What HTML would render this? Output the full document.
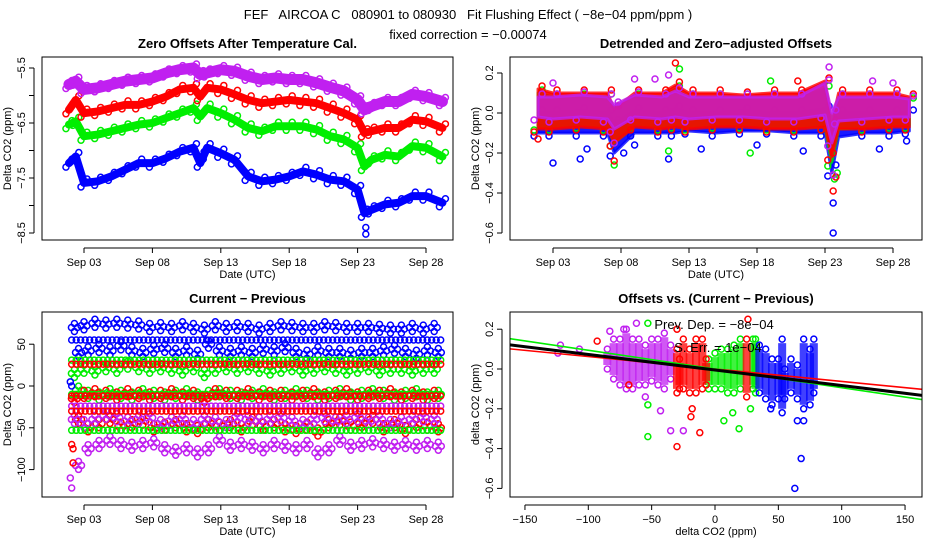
<!DOCTYPE html>
<html><head><meta charset="utf-8"><style>
body{margin:0;background:#fff}
svg{display:block;font-family:"Liberation Sans",sans-serif}
</style></head><body>
<svg id="s" width="936" height="540" viewBox="0 0 936 540">
<rect width="936" height="540" fill="#fff"/>
<text x="468" y="19" text-anchor="middle" font-size="13" style="white-space:pre">FEF   AIRCOA C   080901 to 080930   Fit Flushing Effect ( −8e−04 ppm/ppm )</text>
<text x="468" y="39" text-anchor="middle" font-size="13">fixed correction = −0.00074</text>
</svg>
<script>
// ---------- data ----------
const COLORS = {blue:'#0000ff', green:'#00ee00', red:'#ff0000', purple:'#c020f0'};
const p1Days = [1.9,2.4,3,4,5,6,7,8,9,10,11,11.5,12,13,14,15,16,17,18,19,20,21,22,23,23.5,24,25,26,27,28,29.2];
const p1Purple = [-5.80,-5.74,-5.89,-5.86,-5.80,-5.74,-5.71,-5.68,-5.59,-5.53,-5.50,-5.62,-5.59,-5.53,-5.56,-5.65,-5.71,-5.68,-5.71,-5.71,-5.77,-5.85,-5.92,-6.08,-6.26,-6.20,-6.11,-6.11,-5.98,-6.02,-6.11];
const p1Red = [-6.26,-6.08,-6.32,-6.29,-6.23,-6.17,-6.17,-6.11,-6.02,-5.89,-5.86,-6.02,-5.86,-5.89,-5.98,-6.08,-6.14,-6.11,-6.08,-6.11,-6.14,-6.23,-6.32,-6.44,-6.68,-6.65,-6.59,-6.59,-6.44,-6.47,-6.59];
const p1Green = [-6.53,-6.47,-6.74,-6.71,-6.65,-6.59,-6.53,-6.50,-6.41,-6.32,-6.23,-6.38,-6.23,-6.32,-6.44,-6.59,-6.65,-6.56,-6.56,-6.56,-6.62,-6.74,-6.80,-6.95,-7.29,-7.17,-7.08,-7.11,-6.92,-6.95,-7.11];
const p1Blue = [-7.23,-7.11,-7.59,-7.56,-7.47,-7.35,-7.23,-7.23,-7.14,-7.02,-6.95,-7.23,-6.95,-7.05,-7.17,-7.47,-7.56,-7.53,-7.47,-7.38,-7.44,-7.53,-7.56,-7.71,-8.14,-8.08,-7.98,-7.95,-7.83,-7.83,-7.95];
const p1BlueOutDays = [23.6,23.6];
const p1BlueOutVals = [-8.4,-8.52];
const p1YTicks = [-5.5,-6.5,-7.5,-8.5];
const p1YMinor = [-6,-7,-8];
const dateTicks = [3,8,13,18,23,28];
const dateLabels = ['Sep 03','Sep 08','Sep 13','Sep 18','Sep 23','Sep 28'];

const p2Days = [1.9,3,5,7,7.5,9,11,12,13,15,17,19,21,23,23.5,24,26,28,29.2];
const p2BlueLo = [-0.10,-0.10,-0.10,-0.10,-0.20,-0.10,-0.10,-0.10,-0.09,-0.10,-0.09,-0.09,-0.10,-0.10,-0.30,-0.12,-0.10,-0.10,-0.09];
const p2BlueHi = [0.00,0.00,0.01,0.00,-0.05,0.01,0.00,0.02,0.00,0.00,0.01,0.00,0.00,0.02,-0.1,0.00,0.00,0.00,0.00];
const p2GreenLo = [-0.07,-0.07,-0.06,-0.07,-0.15,-0.06,-0.07,-0.06,-0.07,-0.06,-0.06,-0.07,-0.07,-0.07,-0.25,-0.08,-0.07,-0.06,-0.06];
const p2GreenHi = [0.10,0.08,0.08,0.08,0.02,0.08,0.08,0.12,0.08,0.08,0.08,0.08,0.08,0.12,-0.05,0.08,0.08,0.08,0.06];
const p2RedLo = [-0.08,-0.08,-0.07,-0.08,-0.15,-0.07,-0.08,-0.07,-0.08,-0.07,-0.07,-0.08,-0.08,-0.07,-0.22,-0.08,-0.08,-0.07,-0.07];
const p2RedHi = [0.12,0.10,0.10,0.10,0.02,0.10,0.10,0.14,0.10,0.10,0.09,0.10,0.10,0.16,-0.05,0.10,0.10,0.10,0.08];
const p2PurpleLo = [-0.02,-0.03,-0.02,-0.03,-0.08,-0.02,-0.03,-0.02,-0.03,-0.02,-0.02,-0.03,-0.03,-0.01,-0.15,-0.04,-0.03,-0.02,-0.02];
const p2PurpleHi = [0.08,0.08,0.09,0.08,0.04,0.09,0.08,0.11,0.08,0.08,0.08,0.08,0.08,0.15,0.00,0.08,0.08,0.08,0.07];
const p2OutBlueD = [3,5,5.5,8.2,9,11.5,13.9,18,21.4,23.6,23.6,23.8,27,29];
const p2OutBlueV = [-0.25,-0.23,-0.18,-0.2,-0.16,-0.23,-0.18,-0.16,-0.19,-0.45,-0.6,-0.26,-0.18,-0.14];
const p2OutGreenD = [7.5,11.5,12.3,17.5,19,23.7,23.9];
const p2OutGreenV = [-0.26,-0.19,0.22,-0.2,0.16,-0.33,-0.3];
const p2OutRedD = [1.9,7.5,12,21,23.6,23.6,23.8];
const p2OutRedV = [-0.13,-0.24,0.25,0.16,-0.2,-0.39,-0.32];
const p2OutPurpleD = [3,7.5,9,10.5,11.5,23.3,23.6,26.5,28];
const p2OutPurpleV = [0.15,-0.15,0.17,0.17,0.19,0.23,-0.31,0.16,0.15];
const p2YTicks = [0.2,0,-0.2,-0.4,-0.6];
const p2YLabels = ['0.2','0.0','−0.2','−0.4','−0.6'];

const p3Days = [2.3,3.0,3.8,4.6,5.4,6.2,7.0,7.8,8.6,9.4,10.2,11.0,11.8,12.6,13.4,14.2,15.0,15.8,16.6,17.4,18.2,19.0,19.8,20.6,21.4,22.2,23.0,23.8,24.6,25.4,26.2,27.0,27.8,28.6];
const p3BlueHi = [70,72,75,74,75,74,73,70,71,70,72,70,68,72,70,71,70,68,70,72,71,70,70,72,71,70,70,70,69,68,68,70,68,70];
const p3BlueLo = [40,42,45,42,48,42,40,44,45,40,42,38,50,42,40,42,40,44,42,46,40,38,42,40,40,38,40,40,42,44,40,38,42,40];
const p3GreenHi = [15,20,18,22,20,25,22,20,22,20,18,22,15,20,22,20,22,20,18,20,22,18,20,22,20,18,20,22,18,20,20,18,20,20];
const p3GreenLo = [-5,-10,-12,-8,-10,-12,-8,-10,-12,-10,-8,-12,-10,-8,-10,-12,-10,-8,-12,-10,-8,-10,-12,-10,-8,-12,-10,-8,-10,-12,-10,-8,-12,-10];
const p3RedHi = [-15,-10,-8,-10,-12,-8,-10,-12,-10,-8,-12,-10,-15,-8,-10,-10,-8,-12,-10,-10,-12,-10,-8,-12,-10,-8,-12,-10,-10,-8,-12,-10,-12,-10];
const p3RedLo = [-40,-50,-45,-40,-48,-45,-42,-50,-48,-45,-50,-52,-45,-48,-45,-50,-42,-48,-45,-50,-52,-48,-55,-45,-42,-48,-45,-40,-50,-45,-52,-45,-48,-50];
const p3PurpleHi = [-40,-45,-40,-35,-38,-42,-40,-38,-45,-42,-40,-45,-40,-42,-45,-38,-40,-42,-40,-38,-42,-45,-40,-38,-42,-40,-38,-42,-40,-45,-42,-40,-38,-40];
const p3PurpleLo = [-95,-75,-70,-65,-70,-72,-70,-68,-75,-78,-75,-80,-75,-65,-72,-70,-72,-75,-70,-72,-75,-70,-80,-75,-65,-72,-70,-68,-70,-72,-70,-72,-70,-72];
const p3RowSeries = ['blue','green','red','green','red','purple','red','green'];
const p3RowLevels = [55,31,26,-10,-12,-24,-30,-53];
const p3EarlyD = [2.0,2.1,2.2,2.1,2.2,2.0,2.1];
const p3EarlyV = [-110,-122,-92,-70,-75,5,0];
const p3EarlyS = ['purple','purple','red','red','red','blue','blue'];
const p3YTicks = [50,0,-50,-100];
const p3YLabels = ['50','0','−50','−100'];

const p4PurpleX = [-85,-80,-75,-70,-65,-60,-55,-50,-45,-40,-35];
const p4PurpleLo = [0.0,-0.05,-0.08,-0.1,-0.1,-0.08,-0.08,-0.06,-0.08,-0.1,-0.05];
const p4PurpleHi = [0.1,0.15,0.15,0.2,0.15,0.15,0.12,0.15,0.15,0.18,0.12];
const p4RedX = [-30,-28,-25,-20,-15,-10,-7,25];
const p4RedLo = [-0.12,-0.1,-0.1,-0.12,-0.12,-0.1,-0.08,-0.14];
const p4RedHi = [0.1,0.05,0.15,0.1,0.15,0.15,0.05,0.15];
const p4GreenX = [-5,0,5,10,15,20,30,32];
const p4GreenLo = [-0.1,-0.1,-0.1,-0.12,-0.12,-0.1,-0.1,-0.12];
const p4GreenHi = [0.05,0.08,0.1,0.1,0.12,0.15,0.15,0.15];
const p4BlueX = [35,40,45,50,53,55,60,65,70,75,78];
const p4BlueLo = [-0.12,-0.15,-0.18,-0.15,-0.22,-0.15,-0.12,-0.15,-0.2,-0.18,-0.12];
const p4BlueHi = [0.12,0.1,0.05,0.05,0.15,0.0,0.05,0.02,0.15,0.1,0.15];
const p4OutX = [63,68,70,65,44,-53,-53,7,19,14,-53,28,-30,-12,-19,-18,-93,26,-30,-68,-122,-107,-124,-62,-35,-25,-43,-55,-83,-72];
const p4OutY = [-0.6,-0.45,-0.26,-0.26,-0.2,-0.34,-0.18,-0.26,-0.3,-0.22,0.23,-0.2,-0.39,-0.32,-0.24,-0.2,0.14,0.25,0.2,-0.08,0.12,0.1,0.08,0.23,-0.31,-0.31,-0.21,-0.14,0.19,0.2];
const p4OutS = ['blue','blue','blue','blue','blue','green','green','green','green','green','green','green','red','red','red','red','red','red','red','red','purple','purple','purple','purple','purple','purple','purple','purple','purple','purple'];
const fitNames = ['red','green','black'];
const fitSlopes = [-0.000625,-0.00094,-0.00078];
const fitIntercepts = [0.0,0.0,-0.005];
const p4XTicks = [-150,-100,-50,0,50,100,150];
const p4YTicks = [0.2,0,-0.2,-0.4,-0.6];

// ---------- scales ----------
const x1 = d => 84 + (d-3)*13.68;
const y1 = v => 68 + (-5.5 - v)*55;
const x2 = d => 553 + (d-3)*13.6;
const y2 = v => 113 - v*200;
const y3 = v => 386 - v*0.836;
const x4 = v => 715 + v*1.267;
const y4 = v => 369 - v*199;

const svg = document.getElementById('s');
const NS = 'http://www.w3.org/2000/svg';
function mk(tag, attrs, parent){
  const e = document.createElementNS(NS, tag);
  for (const k in attrs) e.setAttribute(k, attrs[k]);
  (parent||svg).appendChild(e);
  return e;
}
function grp(name){
  const g = mk('g', {});
  
  
  return g;
}
function dot(g, cx, cy, col){
  const c = mk('circle', {cx:cx, cy:cy, r:3, fill:'none', stroke:col, 'stroke-width':1.5}, g);
  
  
}
function txt(g, x, y, s, size, anchor, rot, bold){
  const t = mk('text', {x:x, y:y, 'font-size':size, 'text-anchor':anchor||'middle'}, g);
  if (rot) t.setAttribute('transform', 'rotate(-90 '+x+' '+y+')');
  if (bold) t.setAttribute('font-weight', 'bold');
  t.textContent = s;
  
  
  return t;
}
function frame(name, X0, Y0, X1, Y1, title, xlab, ylab, xt, xl, xs, yt, yl, ys, ymin){
  const g = grp(name);
  const r = mk('rect', {x:X0, y:Y0, width:X1-X0, height:Y1-Y0, fill:'none', stroke:'#000', 'stroke-width':1}, g);
  
  
  txt(g, (X0+X1)/2, Y0-9, title, 13, 'middle', false, true);
  txt(g, (X0+X1)/2, Y1+38, xlab, 11);
  txt(g, X0-31, (Y0+Y1)/2, ylab, 11, 'middle', true);
  const ax = mk('line', {x1:xs(xt[0]), x2:xs(xt[xt.length-1]), y1:Y1+8, y2:Y1+8, stroke:'#000'}, g);
  
  
  xt.forEach((t,i)=>{
    const l = mk('line', {x1:xs(t), x2:xs(t), y1:Y1+8, y2:Y1+13, stroke:'#000'}, g);
    
    
    txt(g, xs(t), Y1+26, xl[i], 11);
  });
  const all = yt.concat(ymin||[]);
  const ay = mk('line', {x1:X0-8, x2:X0-8, y1:ys(Math.max(...all)), y2:ys(Math.min(...all)), stroke:'#000'}, g);
  
  
  all.forEach((t,i)=>{
    const l = mk('line', {x1:X0-13, x2:X0-8, y1:ys(t), y2:ys(t), stroke:'#000'}, g);
    
    
    if (i < yt.length) txt(g, X0-17, ys(t), yl[i], 11, 'middle', true);
  });
}

// ---------- panel 1 ----------
(function(){
  const g = grp('panel-zero-offsets');
  const clip = mk('clipPath', {id:'c1'}, svg); mk('rect', {x:42,y:57,width:411,height:183}, clip);
  g.setAttribute('clip-path', 'url(#c1)');
  [['blue',p1Blue],['green',p1Green],['red',p1Red],['purple',p1Purple]].forEach(([s,vals])=>{
    const pts = p1Days.map((d,i)=>x1(d)+','+y1(vals[i])).join(' ');
    const pl = mk('polyline', {points:pts, fill:'none', stroke:COLORS[s], 'stroke-width':s==='purple'?11:8, 'stroke-linejoin':'round', 'stroke-linecap':'round'}, g);
    
    
    p1Days.forEach((d,i)=>{ dot(g, x1(d)+3, y1(vals[i])-4, COLORS[s]); dot(g, x1(d)-3, y1(vals[i])+4, COLORS[s]); });
  });
  p1BlueOutDays.forEach((d,i)=>dot(g, x1(d), y1(p1BlueOutVals[i]), COLORS.blue));
  frame('panel1-axes', 42, 57, 453, 240, 'Zero Offsets After Temperature Cal.', 'Date (UTC)', 'Delta CO2 (ppm)',
    dateTicks, dateLabels, x1, p1YTicks, ['−5.5','−6.5','−7.5','−8.5'], y1, p1YMinor);
})();

// ---------- panel 2 ----------
(function(){
  const g = grp('panel-detrended');
  const clip = mk('clipPath', {id:'c2'}, svg); mk('rect', {x:510,y:57,width:412,height:183}, clip);
  g.setAttribute('clip-path', 'url(#c2)');
  [['blue',p2BlueLo,p2BlueHi],['green',p2GreenLo,p2GreenHi],['red',p2RedLo,p2RedHi],['purple',p2PurpleLo,p2PurpleHi]].forEach(([s,lo,hi])=>{
    const up = p2Days.map((d,i)=>x2(d)+','+y2(hi[i]));
    const dn = p2Days.map((d,i)=>x2(d)+','+y2(lo[i])).reverse();
    const pg = mk('polygon', {points:up.concat(dn).join(' '), fill:COLORS[s], 'fill-opacity':s==='purple'?0.7:0.9, stroke:COLORS[s], 'stroke-width':3, 'stroke-opacity':0.8, 'stroke-linejoin':'round'}, g);
    
    
    p2Days.forEach((d,i)=>{ dot(g, x2(d)+4, y2(hi[i])-3, COLORS[s]); dot(g, x2(d)-4, y2(lo[i])+3, COLORS[s]); });
  });
  [['blue',p2OutBlueD,p2OutBlueV],['green',p2OutGreenD,p2OutGreenV],['red',p2OutRedD,p2OutRedV],['purple',p2OutPurpleD,p2OutPurpleV]].forEach(([s,D,V])=>{
    D.forEach((d,i)=>dot(g, x2(d), y2(V[i]), COLORS[s]));
  });
  frame('panel2-axes', 510, 57, 922, 240, 'Detrended and Zero−adjusted Offsets', 'Date (UTC)', 'Delta CO2 (ppm)',
    dateTicks, dateLabels, x2, p2YTicks, p2YLabels, y2);
})();

// ---------- panel 3 ----------
(function(){
  const g = grp('panel-current-previous');
  const clip = mk('clipPath', {id:'c3'}, svg); mk('rect', {x:42,y:312,width:411,height:185}, clip);
  g.setAttribute('clip-path', 'url(#c3)');
  const cl = (d, v, col)=>{ const cx=x1(d), cy=y3(v); dot(g,cx-3,cy,col); dot(g,cx+3,cy,col); dot(g,cx,cy-4,col); dot(g,cx,cy+4,col); };
  [['blue',p3BlueHi,p3BlueLo],['green',p3GreenHi,p3GreenLo],['red',p3RedHi,p3RedLo],['purple',p3PurpleHi,p3PurpleLo]].forEach(([s,hi,lo])=>{
    p3Days.forEach((d,i)=>{ cl(d, hi[i], COLORS[s]); cl(d+0.3, lo[i], COLORS[s]); });
  });
  p3RowLevels.forEach((lv,i)=>{
    const col = COLORS[p3RowSeries[i]];
    for (let px = x1(2.1); px <= x1(29.3); px += 4.5) dot(g, px, y3(lv), col);
  });
  p3EarlyD.forEach((d,i)=>dot(g, x1(d), y3(p3EarlyV[i]), COLORS[p3EarlyS[i]]));
  frame('panel3-axes', 42, 312, 453, 497, 'Current − Previous', 'Date (UTC)', 'Delta CO2 (ppm)',
    dateTicks, dateLabels, x1, p3YTicks, p3YLabels, y3);
})();

// ---------- panel 4 ----------
(function(){
  const g = grp('panel-offsets-vs-diff');
  const clip = mk('clipPath', {id:'c4'}, svg); mk('rect', {x:510,y:312,width:412,height:185}, clip);
  g.setAttribute('clip-path', 'url(#c4)');
  [['purple',p4PurpleX,p4PurpleLo,p4PurpleHi],['green',p4GreenX,p4GreenLo,p4GreenHi],['red',p4RedX,p4RedLo,p4RedHi],['blue',p4BlueX,p4BlueLo,p4BlueHi]].forEach(([s,X,lo,hi])=>{
    X.forEach((xv,i)=>{
      const r = mk('rect', {x:x4(xv)-4, y:y4(hi[i])+4, width:8, height:Math.max(0,y4(lo[i])-y4(hi[i])-8), fill:COLORS[s], 'fill-opacity':0.75}, g);
      
      
      dot(g, x4(xv), y4(hi[i]), COLORS[s]); dot(g, x4(xv), y4(lo[i]), COLORS[s]);
    });
  });
  p4OutX.forEach((xv,i)=>dot(g, x4(xv), y4(p4OutY[i]), COLORS[p4OutS[i]]));
  fitNames.forEach((n,i)=>{
    const l = mk('line', {x1:x4(-170), y1:y4(fitIntercepts[i]+fitSlopes[i]*-170), x2:x4(170), y2:y4(fitIntercepts[i]+fitSlopes[i]*170), stroke:n==='black'?'#000':COLORS[n], 'stroke-width':n==='black'?3:1.6}, g);
    
    
  });
  txt(g, 714, 329, 'Prev. Dep. =  −8e−04', 13);
  txt(g, 718, 352, 'S. Err. = 1e−04', 13);
  frame('panel4-axes', 510, 312, 922, 497, 'Offsets vs. (Current − Previous)', 'delta CO2 (ppm)', 'delta CO2 (ppm)',
    p4XTicks, ['−150','−100','−50','0','50','100','150'], x4, p4YTicks, p2YLabels, y4);
})();
</script>
</body></html>
